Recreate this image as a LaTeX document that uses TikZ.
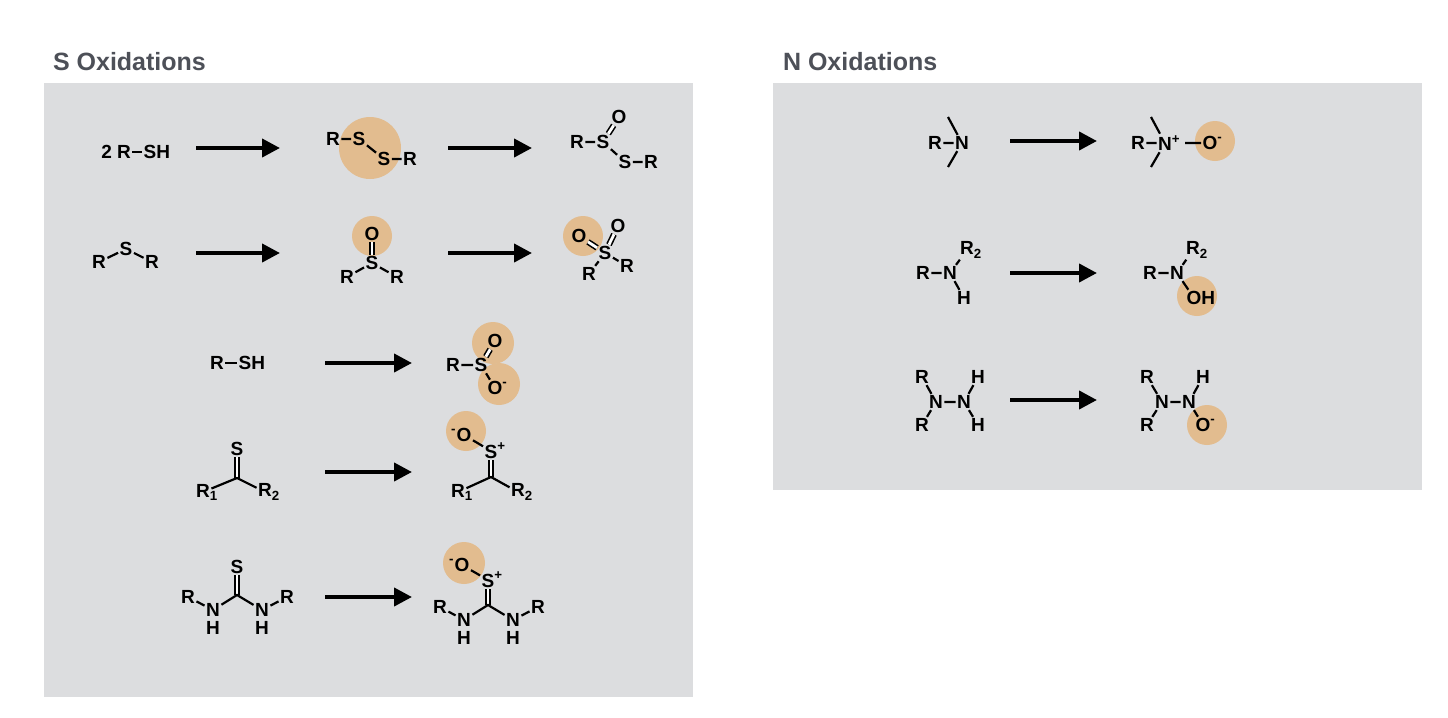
\documentclass[tikz,border=0pt]{standalone}
\usepackage{fontspec}
\setmainfont{Liberation Sans}
\usetikzlibrary{arrows.meta}
\definecolor{panel}{HTML}{DCDDDF}
\definecolor{hl}{HTML}{E2BC8F}
\definecolor{ttl}{HTML}{4D5058}
\tikzset{
  atm/.style={inner sep=0.6pt, font=\fontsize{9.5}{11}\selectfont\bfseries},
  bd/.style={line width=1.1pt},
  db/.style={line width=0.8pt, double distance=1.4pt},
  rx/.style={line width=2pt, -{Triangle[length=9pt,width=9pt]}},
  ttlst/.style={anchor=west, text=ttl, font=\fontsize{12.5}{14}\selectfont\bfseries}
}
\newcommand{\sbs}[1]{\rlap{\textsubscript{#1}}}
\newcommand{\sps}[1]{\rlap{\textsuperscript{#1}}}
\begin{document}
\begin{tikzpicture}[x=0.5pt,y=-0.5pt]
\useasboundingbox (0,0) rectangle (1448,718);
\fill[panel] (44,83) rectangle (693,697);
\fill[panel] (773,83) rectangle (1422,490);
\node[ttlst] (t1) at (46,62) {S Oxidations};
\node[ttlst] (t2) at (776,62) {N Oxidations};
% highlights
\fill[hl] (370,148) circle (31);
\fill[hl] (372,236) circle (20);
\fill[hl] (583,236) circle (20);
\fill[hl] (493,343) circle (21);
\fill[hl] (499,384) circle (21);
\fill[hl] (466,431) circle (20);
\fill[hl] (464,563) circle (21);
\fill[hl] (1215,141) circle (20);
\fill[hl] (1197,296) circle (20);
\fill[hl] (1207,425) circle (20);
% arrows
\foreach \n/\a/\b/\y in {a1/196/280/148, a2/448/532/148, a3/196/280/253, a4/448/532/253,
  a5/325/412/363, a6/325/412/472, a7/325/412/597,
  b1/1010/1097/141, b2/1010/1097/273, b3/1010/1097/400}{
  \coordinate (\n s) at (\a,\y); \coordinate (\n e) at (\b,\y);
  \draw[rx] (\n s) -- (\n e);
}
% row 1
\node[atm] (r1R) at (124,152) {\llap{2 }R};
\node[atm] (r1S) at (150,152) {S\rlap{H}};
\draw[bd] (r1R) -- (r1S);
\node[atm] (p1R) at (333,139) {R};
\node[atm] (p1S) at (359,139) {S};
\node[atm] (p1S2) at (384,159) {S};
\node[atm] (p1R2) at (410,159) {R};
\draw[bd] (p1R)--(p1S) (p1S)--(p1S2) (p1S2)--(p1R2);
\node[atm] (q1R) at (577,142) {R};
\node[atm] (q1S) at (603,142) {S};
\node[atm] (q1O) at (619,117) {O};
\node[atm] (q1S2) at (625,162) {S};
\node[atm] (q1R2) at (651,162) {R};
\draw[bd] (q1R)--(q1S) (q1S)--(q1S2) (q1S2)--(q1R2);
\draw[db] (q1S)--(q1O);
% row 2
\node[atm] (r2R) at (99,262) {R};
\node[atm] (r2S) at (126,249) {S};
\node[atm] (r2R2) at (152,262) {R};
\draw[bd] (r2R)--(r2S)--(r2R2);
\node[atm] (p2O) at (372,234) {O};
\node[atm] (p2S) at (372,263) {S};
\node[atm] (p2R) at (347,277) {R};
\node[atm] (p2R2) at (397,277) {R};
\draw[db] (p2O)--(p2S);
\draw[bd] (p2R)--(p2S)--(p2R2);
\node[atm] (q2O) at (579,236) {O};
\node[atm] (q2S) at (605,253) {S};
\node[atm] (q2O2) at (618,226) {O};
\node[atm] (q2R) at (589,274) {R};
\node[atm] (q2R2) at (627,266) {R};
\draw[db] (q2O)--(q2S); \draw[db] (q2S)--(q2O2);
\draw[bd] (q2R)--(q2S)--(q2R2);
% row 3
\node[atm] (r3R) at (217,363) {R};
\node[atm] (r3S) at (245,363) {S\rlap{H}};
\draw[bd] (r3R)--(r3S);
\node[atm] (p3R) at (453,365) {R};
\node[atm] (p3S) at (481,365) {S};
\node[atm] (p3O) at (495,341) {O};
\node[atm] (p3O2) at (495,388) {O\sps{-}};
\draw[bd] (p3R)--(p3S)--(p3O2);
\draw[db] (p3S)--(p3O);
% row 4
\node[atm] (r4S) at (237,449) {S};
\coordinate (r4C) at (237,478);
\node[atm] (r4R1) at (203,492) {R\sbs{1}};
\node[atm] (r4R2) at (265,492) {R\sbs{2}};
\draw[db] (r4S)--(r4C);
\draw[bd] (r4R1)--(r4C)--(r4R2);
\node[atm] (p4O) at (464,435) {\llap{\textsuperscript{-}}O};
\node[atm] (p4S) at (491,451) {S\sps{+}};
\coordinate (p4C) at (491,477);
\node[atm] (p4R1) at (458,492) {R\sbs{1}};
\node[atm] (p4R2) at (518,492) {R\sbs{2}};
\draw[bd] (p4O)--(p4S);
\draw[db] (p4S)--(p4C);
\draw[bd] (p4R1)--(p4C)--(p4R2);
% row 5
\node[atm] (r5S) at (237,567) {S};
\coordinate (r5C) at (237,595);
\node[atm] (r5N) at (213,610) {N};
\node[atm] (r5H) at (213,628) {H};
\node[atm] (r5R) at (188,597) {R};
\node[atm] (r5N2) at (262,610) {N};
\node[atm] (r5H2) at (262,628) {H};
\node[atm] (r5R2) at (287,597) {R};
\draw[db] (r5S)--(r5C);
\draw[bd] (r5N)--(r5C)--(r5N2) (r5R)--(r5N) (r5R2)--(r5N2);
\node[atm] (p5O) at (462,565) {\llap{\textsuperscript{-}}O};
\node[atm] (p5S) at (488,580) {S\sps{+}};
\coordinate (p5C) at (488,605);
\node[atm] (p5N) at (464,620) {N};
\node[atm] (p5H) at (464,638) {H};
\node[atm] (p5R) at (440,607) {R};
\node[atm] (p5N2) at (513,620) {N};
\node[atm] (p5H2) at (513,638) {H};
\node[atm] (p5R2) at (538,607) {R};
\draw[bd] (p5O)--(p5S);
\draw[db] (p5S)--(p5C);
\draw[bd] (p5N)--(p5C)--(p5N2) (p5R)--(p5N) (p5R2)--(p5N2);
% N row 1
\node[atm] (n1R) at (935,143) {R};
\node[atm] (n1N) at (962,143) {N};
\coordinate (n1u) at (948,117); \coordinate (n1d) at (948,167);
\draw[bd] (n1R)--(n1N) (n1N)--(n1u) (n1N)--(n1d);
\node[atm] (m1R) at (1138,143) {R};
\node[atm] (m1N) at (1165,143) {N\sps{+}};
\node[atm] (m1O) at (1210,143) {O\sps{-}};
\coordinate (m1u) at (1151,117); \coordinate (m1d) at (1151,167);
\coordinate (m1b) at (1185,143);
\draw[bd] (m1R)--(m1N) (m1N)--(m1u) (m1N)--(m1d) (m1b)--(m1O);
% N row 2
\node[atm] (n2R) at (923,273) {R};
\node[atm] (n2N) at (950,273) {N};
\node[atm] (n2R2) at (967,250) {R\sbs{2}};
\node[atm] (n2H) at (964,298) {H};
\draw[bd] (n2R)--(n2N)--(n2R2) (n2N)--(n2H);
\node[atm] (m2R) at (1150,273) {R};
\node[atm] (m2N) at (1177,273) {N};
\node[atm] (m2R2) at (1193,250) {R\sbs{2}};
\node[atm] (m2O) at (1194,298) {O\rlap{H}};
\draw[bd] (m2R)--(m2N)--(m2R2) (m2N)--(m2O);
% N row 3
\node[atm] (n3R) at (922,377) {R};
\node[atm] (n3Rb) at (922,425) {R};
\node[atm] (n3N) at (936,402) {N};
\node[atm] (n3N2) at (964,402) {N};
\node[atm] (n3H) at (978,377) {H};
\node[atm] (n3Hb) at (978,425) {H};
\draw[bd] (n3R)--(n3N)--(n3Rb) (n3N)--(n3N2) (n3H)--(n3N2)--(n3Hb);
\node[atm] (m3R) at (1147,377) {R};
\node[atm] (m3Rb) at (1147,425) {R};
\node[atm] (m3N) at (1162,402) {N};
\node[atm] (m3N2) at (1189,402) {N};
\node[atm] (m3H) at (1203,377) {H};
\node[atm] (m3O) at (1203,425) {O\sps{-}};
\draw[bd] (m3R)--(m3N)--(m3Rb) (m3N)--(m3N2) (m3H)--(m3N2)--(m3O);
\end{tikzpicture}
\end{document}
